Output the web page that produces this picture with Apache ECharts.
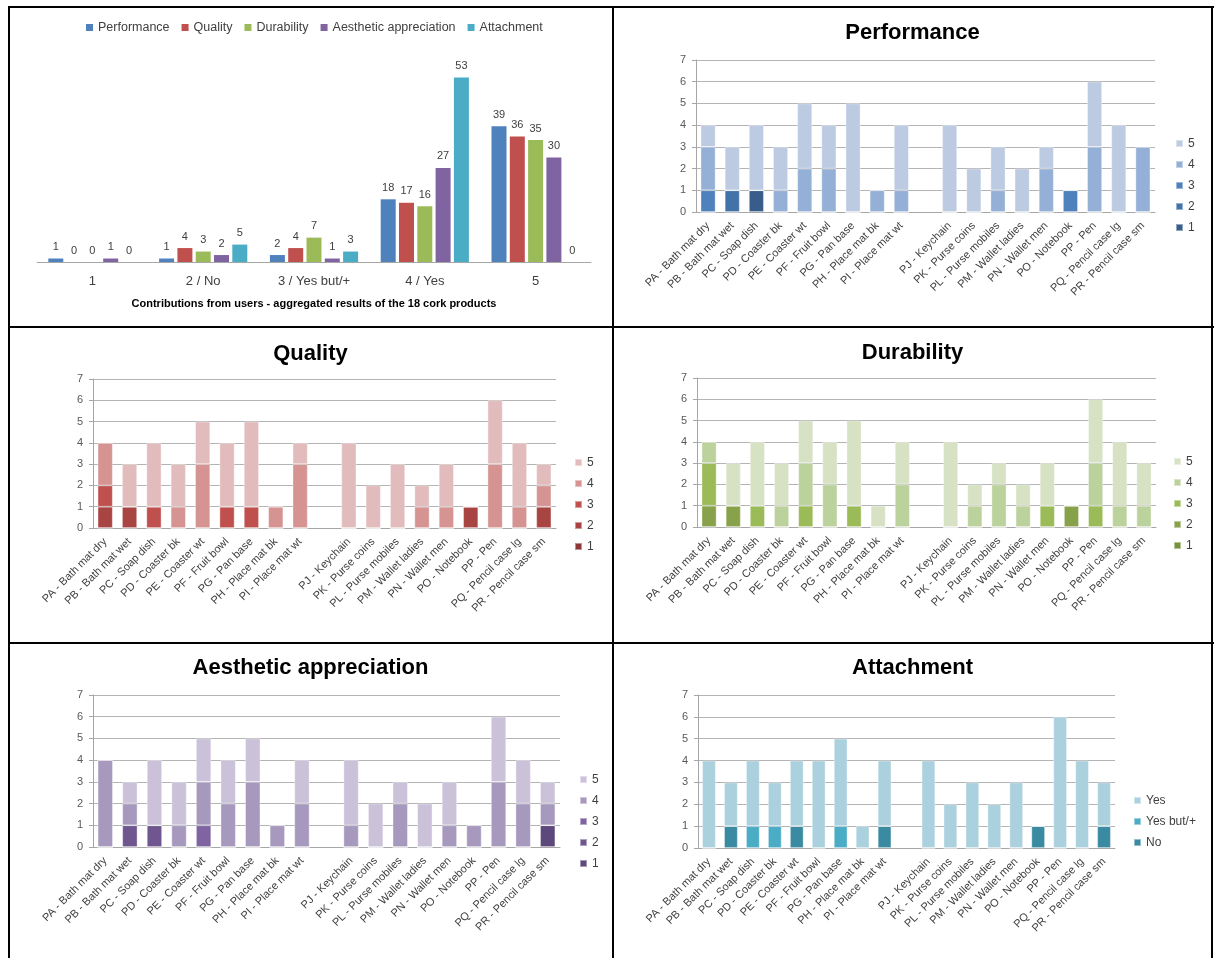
<!DOCTYPE html>
<html>
<head>
<meta charset="utf-8">
<script src="https://cdn.jsdelivr.net/npm/echarts@6/dist/echarts.min.js"></script>
<style>
  html, body { margin: 0; padding: 0; background: #fff; }
  body { width: 1214px; height: 958px; position: relative; overflow: hidden; }
  .panel { position: absolute; }
  .ln { position: absolute; background: #000; }
</style>
</head>
<body>
<div id="tl" class="panel" style="left:8px;top:7px;width:605px;height:320px"></div>
<div id="tr" class="panel" style="left:613px;top:7px;width:599px;height:320px"></div>
<div id="ml" class="panel" style="left:8px;top:327px;width:605px;height:316px"></div>
<div id="mr" class="panel" style="left:613px;top:327px;width:599px;height:316px"></div>
<div id="bl" class="panel" style="left:8px;top:643px;width:605px;height:315px"></div>
<div id="br" class="panel" style="left:613px;top:643px;width:599px;height:315px"></div>

<div class="ln" style="left:8px;top:6px;width:1206px;height:2px"></div>
<div class="ln" style="left:8px;top:326px;width:1206px;height:2px"></div>
<div class="ln" style="left:8px;top:642px;width:1206px;height:2px"></div>
<div class="ln" style="left:8px;top:6px;width:2px;height:952px"></div>
<div class="ln" style="left:612px;top:6px;width:2px;height:952px"></div>
<div class="ln" style="left:1211px;top:6px;width:2px;height:952px"></div>

<script>
// ---------- Aggregated chart (top-left) ----------
const levels = ['1', '2 / No', '3 / Yes but/+', '4 / Yes', '5'];
const aggPerformance = [1, 1, 2, 18, 39];
const aggQuality     = [0, 4, 4, 17, 36];
const aggDurability  = [0, 3, 7, 16, 35];
const aggAesthetic   = [1, 2, 1, 27, 30];
const aggAttachment  = [0, 5, 3, 53, 0];

// ---------- Per-product categories ('' = gap slot) ----------
const products = ['PA - Bath mat dry', 'PB - Bath mat wet', 'PC - Soap dish', 'PD - Coaster bk',
  'PE - Coaster wt', 'PF - Fruit bowl', 'PG - Pan base', 'PH - Place mat bk', 'PI - Place mat wt', '',
  'PJ - Keychain', 'PK - Purse coins', 'PL - Purse mobiles', 'PM - Wallet ladies', 'PN - Wallet men',
  'PO - Notebook', 'PP - Pen', 'PQ - Pencil case lg', 'PR - Pencil case sm'];

// Performance (score 1..5)
const perf1 = [0,0,1,0,0,0,0,0,0,null,0,0,0,0,0,0,0,0,0];
const perf2 = [0,1,0,0,0,0,0,0,0,null,0,0,0,0,0,0,0,0,0];
const perf3 = [1,0,0,0,0,0,0,0,0,null,0,0,0,0,0,1,0,0,0];
const perf4 = [2,0,0,1,2,2,0,1,1,null,0,0,1,0,2,0,3,0,3];
const perf5 = [1,2,3,2,3,2,5,0,3,null,4,2,2,2,1,0,3,4,0];

// Quality
const qual1 = [0,0,0,0,0,0,0,0,0,null,0,0,0,0,0,0,0,0,0];
const qual2 = [1,1,0,0,0,0,0,0,0,null,0,0,0,0,0,1,0,0,1];
const qual3 = [1,0,1,0,0,1,1,0,0,null,0,0,0,0,0,0,0,0,0];
const qual4 = [2,0,0,1,3,0,0,1,3,null,0,0,0,1,1,0,3,1,1];
const qual5 = [0,2,3,2,2,3,4,0,1,null,4,2,3,1,2,0,3,3,1];

// Durability
const dur1 = [0,0,0,0,0,0,0,0,0,null,0,0,0,0,0,0,0,0,0];
const dur2 = [1,1,0,0,0,0,0,0,0,null,0,0,0,0,0,1,0,0,0];
const dur3 = [2,0,1,0,1,0,1,0,0,null,0,0,0,0,1,0,1,0,0];
const dur4 = [1,0,0,1,2,2,0,0,2,null,0,1,2,1,0,0,2,1,1];
const dur5 = [0,2,3,2,2,2,4,1,2,null,4,1,1,1,2,0,3,3,2];

// Aesthetic appreciation
const aes1 = [0,0,0,0,0,0,0,0,0,null,0,0,0,0,0,0,0,0,1];
const aes2 = [0,1,1,0,0,0,0,0,0,null,0,0,0,0,0,0,0,0,0];
const aes3 = [0,0,0,0,1,0,0,0,0,null,0,0,0,0,0,0,0,0,0];
const aes4 = [4,1,0,1,2,2,3,1,2,null,1,0,2,0,1,1,3,2,1];
const aes5 = [0,1,3,2,2,2,2,0,2,null,3,2,1,2,2,0,3,2,1];

// Attachment
const attNo  = [0,1,0,0,1,0,0,0,1,null,0,0,0,0,0,1,0,0,1];
const attYb  = [0,0,1,1,0,0,1,0,0,null,0,0,0,0,0,0,0,0,0];
const attYes = [4,2,3,2,3,4,4,1,3,null,4,2,3,2,3,0,6,4,2];

const FONT = 'Liberation Sans, Arial, sans-serif';

// ---------- Top-left aggregated chart ----------
(function () {
  const chart = echarts.init(document.getElementById('tl'), null, { renderer: 'canvas' });
  const names = ['Performance', 'Quality', 'Durability', 'Aesthetic appreciation', 'Attachment'];
  const vals = [aggPerformance, aggQuality, aggDurability, aggAesthetic, aggAttachment];
  const cols = ['#4f81bd', '#c0504d', '#9bbb59', '#8064a2', '#4bacc6'];
  chart.setOption({
    animation: false,
    textStyle: { fontFamily: FONT },
    legend: {
      left: 78, top: 14, padding: 0, icon: 'rect', itemWidth: 7, itemHeight: 7, itemGap: 12,
      textStyle: { fontSize: 12.5, color: '#404040', fontFamily: FONT }
    },
    grid: { left: 29, top: 46, width: 554, height: 209 },
    xAxis: {
      type: 'category', data: levels,
      axisLine: { lineStyle: { color: '#a6a6a6' } },
      axisTick: { show: false },
      axisLabel: { fontSize: 13, color: '#404040', margin: 13, fontFamily: FONT },
      name: 'Contributions from users - aggregated results of the 18 cork products',
      nameLocation: 'middle', nameGap: 36,
      nameTextStyle: { fontWeight: 'bold', fontSize: 11, color: '#000', fontFamily: FONT }
    },
    yAxis: { type: 'value', min: 0, max: 60, show: false },
    series: names.map((n, i) => ({
      name: n, type: 'bar', data: vals[i], barWidth: 15, barGap: '22%',
      itemStyle: { color: cols[i] },
      label: { show: true, position: 'top', distance: 6, fontSize: 11, color: '#404040', fontFamily: FONT }
    }))
  });
})();

// ---------- Stacked per-product panels ----------
function stackedPanel(id, title, names, arrays, colors, grid, legendPos) {
  const chart = echarts.init(document.getElementById(id), null, { renderer: 'canvas' });
  chart.setOption({
    animation: false,
    textStyle: { fontFamily: FONT },
    title: {
      text: title, left: 'center', top: legendPos.titleTop,
      textStyle: { fontSize: 22, fontWeight: 'bold', color: '#000', fontFamily: FONT }
    },
    legend: {
      orient: 'vertical', left: legendPos.left, top: legendPos.top, padding: 0,
      data: names.slice().reverse(), icon: 'rect', itemWidth: 7, itemHeight: 7, itemGap: 8,
      textStyle: { fontSize: 12, lineHeight: 13, color: '#404040', fontFamily: FONT }
    },
    grid: grid,
    xAxis: {
      type: 'category', data: products,
      axisLine: { lineStyle: { color: '#a6a6a6' } },
      axisTick: { show: false },
      axisLabel: { rotate: 45, interval: 0, fontSize: 11, color: '#404040', margin: 12, fontFamily: FONT }
    },
    yAxis: {
      type: 'value', min: 0, max: 7, interval: 1,
      axisLine: { show: true, lineStyle: { color: '#a6a6a6' } },
      axisTick: { show: true, length: 4, lineStyle: { color: '#a6a6a6' } },
      axisLabel: { fontSize: 11, color: '#595959', margin: 10, fontFamily: FONT },
      splitLine: { lineStyle: { color: '#b4b4b4' } }
    },
    series: names.map((n, i) => ({
      name: n, type: 'bar', stack: 'all', data: arrays[i], barWidth: '62%',
      itemStyle: { color: colors[i], borderColor: 'rgba(255,255,255,0.45)', borderWidth: 0.8 }
    }))
  });
}

stackedPanel('tr', 'Performance', ['1', '2', '3', '4', '5'],
  [perf1, perf2, perf3, perf4, perf5],
  ['#385d8a', '#4372a9', '#4f81bd', '#95b0d6', '#bccbe2'],
  { left: 83, top: 53, width: 459, height: 152 },
  { left: 562, top: 130, titleTop: 10 });

stackedPanel('ml', 'Quality', ['1', '2', '3', '4', '5'],
  [qual1, qual2, qual3, qual4, qual5],
  ['#8c3836', '#a84543', '#c0504d', '#d59392', '#e2bcbc'],
  { left: 85, top: 52, width: 463, height: 149 },
  { left: 566, top: 129, titleTop: 11 });

stackedPanel('mr', 'Durability', ['1', '2', '3', '4', '5'],
  [dur1, dur2, dur3, dur4, dur5],
  ['#76923c', '#87a24b', '#9bbb59', '#bcd29c', '#d6e2c3'],
  { left: 84, top: 51, width: 459, height: 149 },
  { left: 560, top: 128, titleTop: 10 });

stackedPanel('bl', 'Aesthetic appreciation', ['1', '2', '3', '4', '5'],
  [aes1, aes2, aes3, aes4, aes5],
  ['#5d487b', '#70568f', '#8064a2', '#a799be', '#cbc2da'],
  { left: 85, top: 52, width: 467, height: 152 },
  { left: 571, top: 130, titleTop: 9 });

stackedPanel('br', 'Attachment', ['No', 'Yes but/+', 'Yes'],
  [attNo, attYb, attYes],
  ['#3a8aa2', '#4bacc6', '#acd1de'],
  { left: 85, top: 52, width: 417, height: 153 },
  { left: 520, top: 151, titleTop: 9 });
</script>
</body>
</html>
